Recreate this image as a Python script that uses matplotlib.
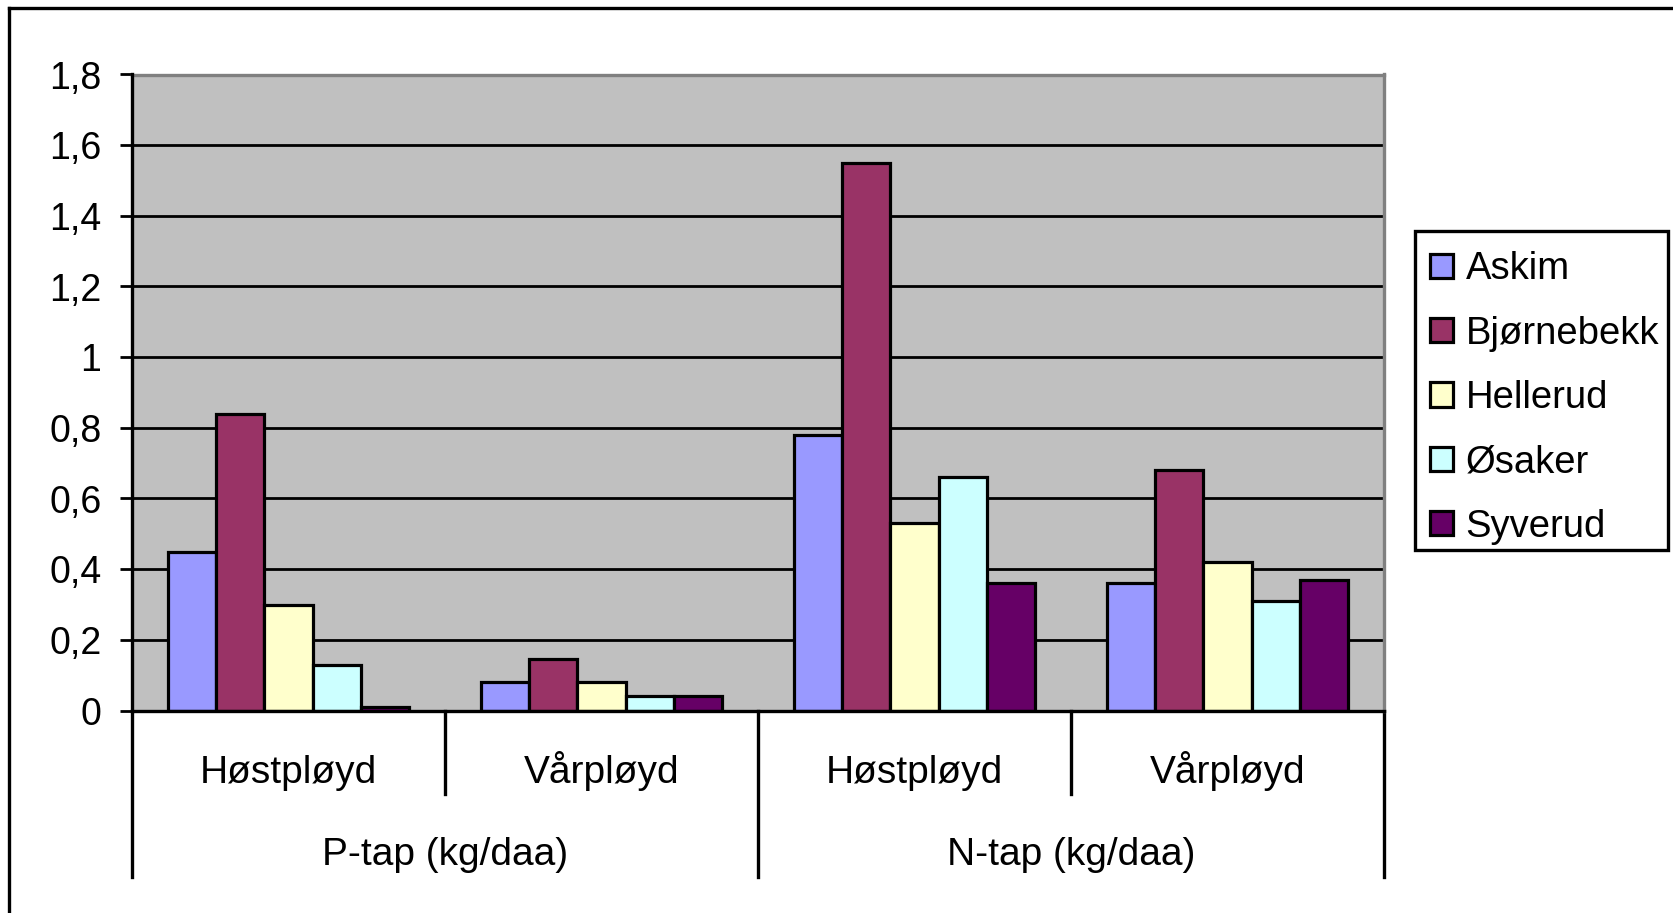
import numpy as np
import matplotlib
matplotlib.use("Agg")
import matplotlib.pyplot as plt
from matplotlib.lines import Line2D
from matplotlib.patches import Rectangle
from matplotlib.ticker import FuncFormatter
import matplotlib.transforms as mtransforms

plt.rcParams['font.family'] = ['Liberation Sans', 'DejaVu Sans']

# data
pløying = ["Høstpløyd", "Vårpløyd", "Høstpløyd", "Vårpløyd"]
tap_typer = ["P-tap (kg/daa)", "N-tap (kg/daa)"]
felt = ["Askim", "Bjørnebekk", "Hellerud", "Øsaker", "Syverud"]
askim = [0.45, 0.08, 0.78, 0.36]
bjornebekk = [0.84, 0.145, 1.55, 0.68]
hellerud = [0.30, 0.08, 0.53, 0.42]
osaker = [0.13, 0.04, 0.66, 0.31]
syverud = [0.01, 0.04, 0.36, 0.37]
farger = ["#9999FF", "#993366", "#FFFFCC", "#CCFFFF", "#660066"]

serier = [askim, bjornebekk, hellerud, osaker, syverud]

W, H = 1673, 913


def komma(v, pos):
    if abs(v - round(v)) < 1e-9:
        return str(int(round(v)))
    return f"{v:.1f}".replace(".", ",")


fig = plt.figure(figsize=(W / 100, H / 100), dpi=100)
ax = fig.add_axes([132 / W, 1 - 710.5 / H, (1384 - 132) / W, (710.5 - 74.5) / H])
ax.set_facecolor("#C0C0C0")

x = np.arange(len(pløying))
w = 1 / 6.5
for i, (navn, verdier) in enumerate(zip(felt, serier)):
    ax.bar(x + (i - 2) * w, verdier, w, color=farger[i], edgecolor="black",
           linewidth=2.3, label=navn, zorder=3)

ax.set_xlim(-0.5, 3.5)
ax.set_ylim(0, 1.8)
ax.set_yticks(np.arange(0, 1.81, 0.2))
ax.yaxis.set_major_formatter(FuncFormatter(komma))
ax.tick_params(axis="y", length=9, width=2, direction="out", pad=13, labelsize=27)
ax.set_xticks([])
for y in np.arange(0.2, 1.7, 0.2):
    ax.axhline(y, color="black", linewidth=2.0, zorder=1)

ax.spines["left"].set_linewidth(2.4)
ax.spines["bottom"].set_linewidth(2.4)
ax.spines["left"].set_zorder(4)
ax.spines["bottom"].set_zorder(4)
for s in ["top", "right"]:
    ax.spines[s].set_color("#808080")
    ax.spines[s].set_linewidth(2.4)

# kategoriakse i to nivåer
trans = mtransforms.blended_transform_factory(ax.transData, ax.transAxes)
for xs in [0.5, 2.5]:
    ax.add_line(Line2D([xs, xs], [0, -0.131], transform=trans, color="black", linewidth=2.4, clip_on=False))
for xs in [-0.5, 1.5, 3.5]:
    ax.add_line(Line2D([xs, xs], [0, -0.262], transform=trans, color="black", linewidth=2.4, clip_on=False))
for xi, lab in zip(x, pløying):
    ax.text(xi, -0.114, lab, transform=trans, ha="center", va="baseline", fontsize=28)
for k, lab in enumerate(tap_typer):
    ax.text(0.5 + 2 * k, -0.243, lab, transform=trans, ha="center", va="baseline", fontsize=28)

# tegnforklaring med egen ramme
leg = ax.legend(loc="upper left", bbox_to_anchor=(1418.5 / W, 1 - 240 / H),
                bbox_transform=fig.transFigure, fontsize=27.5, frameon=False,
                handlelength=0.6, handleheight=0.6, handletextpad=0.33, labelspacing=0.74,
                borderpad=0.3, borderaxespad=0)
fig.add_artist(Rectangle((1415 / W, 1 - 550 / H), 253 / W, 319 / H, transform=fig.transFigure,
                         fill=False, edgecolor="black", linewidth=2.4))

# ramme rundt diagrammet
fig.add_artist(Line2D([8.5 / W, 8.5 / W], [0, 1 - 8.5 / H], color="black", linewidth=2.4))
fig.add_artist(Line2D([8.5 / W, 1], [1 - 8.5 / H, 1 - 8.5 / H], color="black", linewidth=2.4))

fig.savefig("out.png", dpi=100)
